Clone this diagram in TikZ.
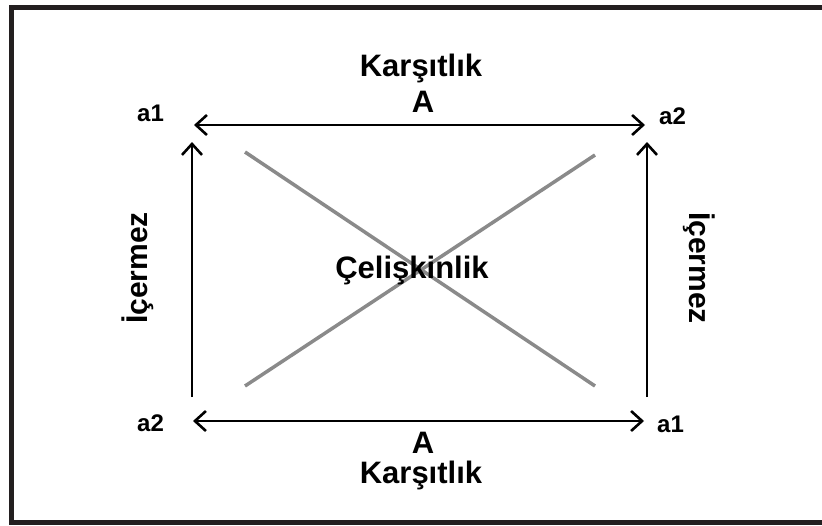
\documentclass[tikz,border=0pt]{standalone}
\usepackage{fontspec}
\setmainfont{Liberation Sans}
\usetikzlibrary{arrows.meta,positioning}
\definecolor{frameDark}{HTML}{231F20}
\definecolor{crossGray}{HTML}{8A8A8A}

\begin{document}
\begin{tikzpicture}[
    x=1pt,y=-1pt,
    big/.style={font=\fontsize{31}{33}\selectfont\bfseries,inner sep=0pt,text=black},
    side/.style={font=\fontsize{30}{32}\selectfont\bfseries,inner sep=0pt,text=black},
    corner/.style={font=\fontsize{24}{26}\selectfont\bfseries,inner sep=0pt,text=black},
    rel/.style={draw=black,line width=2.6pt,
                {Straight Barb[length=11pt,width=20pt]}-{Straight Barb[length=11pt,width=20pt]}},
    imp/.style={draw=black,line width=2.6pt,-{Straight Barb[length=11pt,width=20pt]}},
    cross/.style={draw=crossGray,line width=3.5pt}
  ]
    \useasboundingbox (0,0) rectangle (822,525);
    % open frame, cut by the page edge
    \draw[frameDark,line width=5pt] (822,7.5) -- (11.5,7.5) -- (11.5,522.5) -- (822,522.5);

    % corners of the square
    \coordinate (tl)  at (194,125);
    \coordinate (tr)  at (645,125);
    \coordinate (bl)  at (193,421);
    \coordinate (br)  at (644,421);
    \coordinate (lvb) at (192,397);
    \coordinate (lvt) at (192,142);
    \coordinate (rvb) at (647,397);
    \coordinate (rvt) at (647,142);

    \node[corner,anchor=base west] (a1top) at (137,121) {a1};
    \node[corner,anchor=base west] (a2top) at (659,124) {a2};
    \node[corner,anchor=base west] (a2bot) at (137,431) {a2};
    \node[corner,anchor=base west] (a1bot) at (657,432) {a1};

    \node[big,anchor=base] (karsTop) at (421,76)  {Karşıtlık};
    \node[big,anchor=base] (aTop)    at (423,112) {A};
    \node[big,anchor=base] (aBot)    at (423,453) {A};
    \node[big,anchor=base] (karsBot) at (421,483) {Karşıtlık};

    \node[side,rotate=90]  (icLeft)  at (138,268) {İçermez};
    \node[side,rotate=-90] (icRight) at (699,268) {İçermez};

    % contradiction diagonals
    \coordinate (d1a) at (245,152);
    \coordinate (d1b) at (595,386);
    \coordinate (d2a) at (245,386);
    \coordinate (d2b) at (595,155);
    \draw[cross] (d1a) -- (d1b);
    \draw[cross] (d2a) -- (d2b);
    \node[big,anchor=base] (celis) at (412,278) {Çelişkinlik};

    \draw[rel] (tl) -- (tr);
    \draw[rel] (bl) -- (br);
    \draw[imp] (lvb) -- (lvt);
    \draw[imp] (rvb) -- (rvt);
  \end{tikzpicture}
\end{document}
